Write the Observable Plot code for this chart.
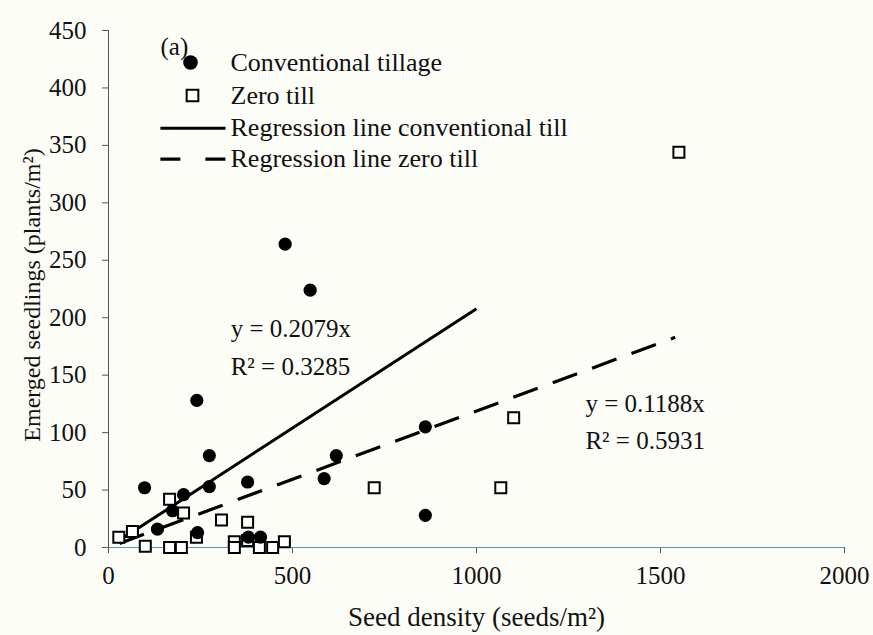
<!DOCTYPE html>
<html><head><meta charset="utf-8">
<script src="https://cdn.jsdelivr.net/npm/d3@7"></script>
<script src="https://cdn.jsdelivr.net/npm/@observablehq/plot@0.6"></script>
<style>
body{margin:0;background:#fdfdf8;}
#chart svg{background:#fdfdf8;font-family:"Liberation Serif","Times New Roman",serif !important;}
#chart svg text{font-family:"Liberation Serif","Times New Roman",serif !important;}
</style>
</head><body><div id="chart"></div>
<script>
// Conventional tillage (filled circles)
const convX = [98, 133, 174, 204, 240, 274, 274, 242, 378, 380, 413, 480, 548, 586, 619, 861, 861];
const convY = [52, 16, 32, 46, 128, 80, 53, 13, 57, 9, 9, 264, 224, 60, 80, 105, 28];
// Zero till (open squares)
const zeroX = [28, 65, 100, 166, 166, 198, 204, 239, 307, 342, 342, 378, 378, 410, 446, 478, 722, 1066, 1101, 1550];
const zeroY = [9, 14, 1, 42, 0, 0, 30, 9, 24, 5, 0, 22, 6, 0, 0, 5, 52, 52, 113, 344];
// Regression lines (y = slope * x), drawn between stated x extents
const regNames = ["conventional", "zero"];
const regSlopes = [0.2079, 0.1188];
const regXStart = [30, 30];
const regXEnd = [1000, 1540];
// Axis ticks
const xTicks = [0, 500, 1000, 1500, 2000];
const yTicks = [0, 50, 100, 150, 200, 250, 300, 350, 400, 450];
// Text
const xTitle = "Seed density (seeds/m²)";
const yTitle = "Emerged seedlings (plants/m²)";
const panelLabel = "(a)";
const legendLabels = ["Conventional tillage", "Zero till", "Regression line conventional till", "Regression line zero till"];
const eqText = ["y = 0.2079x", "R² = 0.3285", "y = 0.1188x", "R² = 0.5931"];
const eqX = [332, 332, 1296, 1296];
const eqY = [190, 157, 125, 93];

const conv = convX.map((x, i) => ({x, y: convY[i]}));
const zero = zeroX.map((x, i) => ({x, y: zeroY[i]}));
const reg = regNames.map((n, i) => ({
  name: n,
  x1: regXStart[i], y1: regXStart[i] * regSlopes[i],
  x2: regXEnd[i], y2: regXEnd[i] * regSlopes[i]
}));
const eqs = eqText.map((t, i) => ({text: t, x: eqX[i], y: eqY[i]}));

const FONT = '"Liberation Serif", "Times New Roman", serif';
const INK = "#111";
const legendDy = [32, 65, 97, 128];

const chart = Plot.plot({
  width: 873,
  height: 635,
  marginLeft: 108,
  marginRight: 29,
  marginTop: 30,
  marginBottom: 88,
  style: {fontFamily: FONT, fontSize: "25px", color: INK, background: "#fdfdf8"},
  x: {domain: [0, 2000]},
  y: {domain: [0, 450]},
  marks: [
    Plot.axisY(yTicks, {tickSize: 6, tickPadding: 16, fontSize: 25, label: null, stroke: "#555", tickFormat: d => String(d), fill: INK}),
    Plot.axisX(xTicks, {tickSize: 6, tickPadding: 13, fontSize: 25, label: null, stroke: "#555", tickFormat: d => String(d), fill: INK}),
    Plot.ruleX([0], {stroke: "#555", strokeWidth: 1}),
    Plot.ruleY([0], {stroke: "#5f97a6", strokeWidth: 1.2}),
    // axis titles
    Plot.text([yTitle], {frameAnchor: "left", dx: -76, dy: 6, rotate: -90, textAnchor: "middle", lineAnchor: "middle", fontSize: 24, fill: INK}),
    Plot.text([xTitle], {frameAnchor: "bottom", dy: 70, textAnchor: "middle", lineAnchor: "middle", fontSize: 27, fill: INK}),
    // regression lines
    Plot.link(reg.filter(d => d.name === "conventional"), {x1: "x1", y1: "y1", x2: "x2", y2: "y2", stroke: "#000", strokeWidth: 3}),
    Plot.link(reg.filter(d => d.name === "zero"), {x1: "x1", y1: "y1", x2: "x2", y2: "y2", stroke: "#000", strokeWidth: 3.2, strokeDasharray: "26,16"}),
    // points
    Plot.dot(zero, {x: "x", y: "y", symbol: "square", r: 6.2, fill: "#fff", stroke: "#000", strokeWidth: 2}),
    Plot.dot(conv, {x: "x", y: "y", symbol: "circle", r: 6.6, fill: "#000", stroke: "none"}),
    // equations
    Plot.text(eqs, {x: "x", y: "y", text: "text", textAnchor: "start", fontSize: 25, fill: INK}),
    // legend
    Plot.text([panelLabel], {frameAnchor: "top-left", dx: 52, dy: 16, textAnchor: "start", lineAnchor: "middle", fontSize: 25, fill: INK}),
    Plot.dot([0], {frameAnchor: "top-left", dx: 82, dy: 32, r: 7.3, fill: "#000", stroke: "none"}),
    Plot.dot([0], {frameAnchor: "top-left", dx: 84, dy: 65, symbol: "square", r: 6.6, fill: "#fff", stroke: "#000", strokeWidth: 2}),
    Plot.link([0], {x1: () => 141, x2: () => 318, y1: () => 365, y2: () => 365, stroke: "#000", strokeWidth: 3}),
    Plot.link([0], {x1: () => 141, x2: () => 318, y1: () => 338, y2: () => 338, stroke: "#000", strokeWidth: 3.2, strokeDasharray: "20,25"}),
    ...legendLabels.map((t, i) => Plot.text([t], {frameAnchor: "top-left", dx: 122, dy: legendDy[i], textAnchor: "start", lineAnchor: "middle", fontSize: 26, fill: INK}))
  ]
});
document.getElementById("chart").appendChild(chart);
</script>
</body></html>
